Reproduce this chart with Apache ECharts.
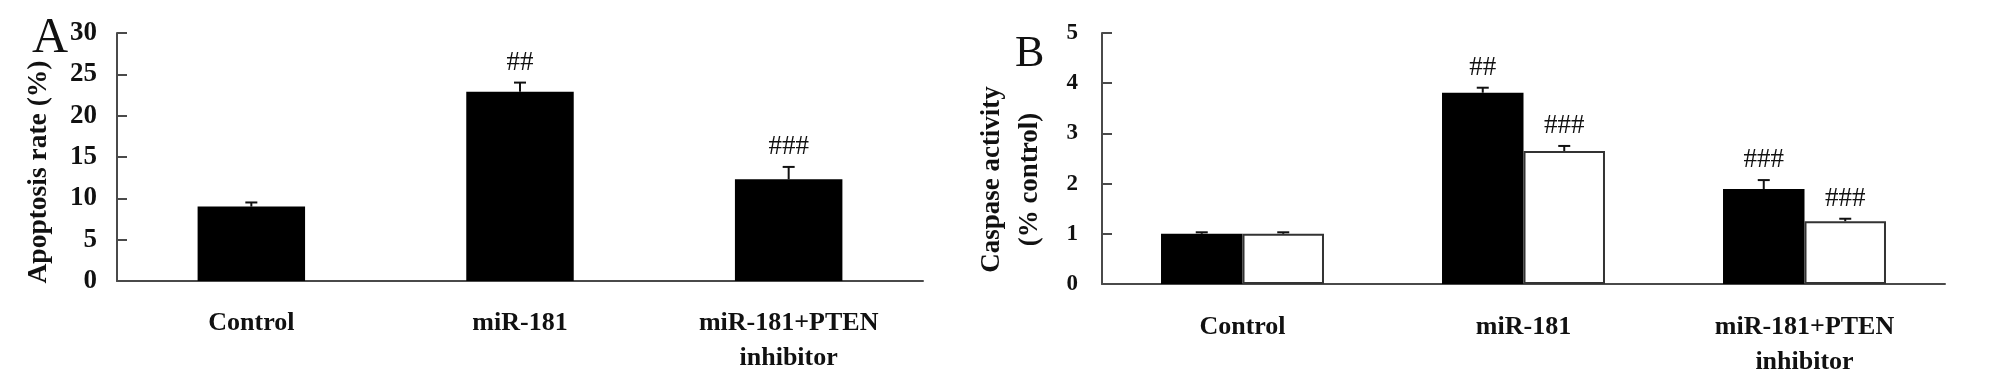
<!DOCTYPE html>
<html>
<head>
<meta charset="utf-8">
<script src="https://cdn.jsdelivr.net/npm/echarts@6/dist/echarts.min.js"></script>
<style>
html,body{margin:0;padding:0;background:#fff;}
#chart{width:2008px;height:384px;}
</style>
</head>
<body>
<div id="chart"></div>
<script>
// ---- data ----
const categories = ['Control', 'miR-181', 'miR-181+PTEN\ninhibitor'];
const apoptosisTicks = [0, 30, 5];           // min, max, interval
const caspaseTicks = [0, 5, 1];
const apoptosisRate = [9.0, 22.9, 12.3];
const apoptosisErr = [0.5, 1.1, 1.5];
const apoptosisMarks = ['', '##', '###'];
const caspaseBlack = [1.0, 3.81, 1.89];
const caspaseBlackErr = [0.03, 0.1, 0.18];
const caspaseBlackMarks = ['', '##', '###'];
const caspaseWhite = [1.0, 2.65, 1.25];
const caspaseWhiteErr = [0.03, 0.1, 0.05];
const caspaseWhiteMarks = ['', '###', '###'];

// ---- styling ----
const SERIF = '"Liberation Serif", "Times New Roman", serif';
const AXIS_COLOR = '#4a4a4a';

function errSeries(xIdx, yIdx, vals, errs, marks, shift, barFrac) {
  return {
    type: 'custom',
    xAxisIndex: xIdx, yAxisIndex: yIdx,
    z: 10,
    data: vals.map((v, i) => [i, v, errs[i]]),
    renderItem: function (params, api) {
      const idx = api.value(0), v = api.value(1), e = api.value(2);
      const mark = marks[idx];
      const base = api.coord([idx, v]);
      const top = api.coord([idx, v + e]);
      const band = api.size([1, 0])[0];
      const x = base[0] + shift * band * barFrac;
      const cap = 6;
      const children = [
        {type: 'line', shape: {x1: x, y1: base[1], x2: x, y2: top[1]}, style: {stroke: '#111', lineWidth: 2}},
        {type: 'line', shape: {x1: x - cap, y1: top[1], x2: x + cap, y2: top[1]}, style: {stroke: '#111', lineWidth: 2}}
      ];
      if (mark) {
        children.push({type: 'text', style: {text: mark, x: x, y: top[1] - 20, align: 'center', verticalAlign: 'middle',
          fontSize: 27, fontFamily: SERIF, fill: '#111'}});
      }
      return {type: 'group', children: children};
    }
  };
}

const xAxisCommon = {
  type: 'category',
  data: categories,
  axisLine: {lineStyle: {color: AXIS_COLOR, width: 2}},
  axisTick: {inside: true, length: 9, lineStyle: {color: AXIS_COLOR, width: 2}},
  splitLine: {show: false}
};
const yAxisCommon = {
  type: 'value',
  axisLine: {show: true, lineStyle: {color: AXIS_COLOR, width: 2}},
  axisTick: {show: true, inside: true, length: 10, lineStyle: {color: AXIS_COLOR, width: 2}},
  splitLine: {show: false},
  nameLocation: 'middle',
  nameRotate: 90
};

const option = {
  animation: false,
  backgroundColor: '#fff',
  grid: [
    {left: 117, top: 33, width: 806, height: 248},
    {left: 1102, top: 33, width: 843, height: 251}
  ],
  xAxis: [
    Object.assign({}, xAxisCommon, {gridIndex: 0,
      axisLabel: {margin: 25, fontFamily: SERIF, fontWeight: 'bold', fontSize: 26, lineHeight: 35, color: '#111', interval: 0}}),
    Object.assign({}, xAxisCommon, {gridIndex: 1,
      axisLabel: {margin: 26, fontFamily: SERIF, fontWeight: 'bold', fontSize: 26, lineHeight: 35, color: '#111', interval: 0}})
  ],
  yAxis: [
    Object.assign({}, yAxisCommon, {gridIndex: 0,
      min: apoptosisTicks[0], max: apoptosisTicks[1], interval: apoptosisTicks[2],
      name: 'Apoptosis rate (%)', nameGap: 64,
      nameTextStyle: {fontFamily: SERIF, fontWeight: 'bold', fontSize: 27.5, color: '#111', padding: [0, 30, 0, 0]},
      axisLabel: {margin: 20, fontFamily: SERIF, fontWeight: 'bold', fontSize: 27, color: '#111'}}),
    Object.assign({}, yAxisCommon, {gridIndex: 1,
      min: caspaseTicks[0], max: caspaseTicks[1], interval: caspaseTicks[2],
      name: 'Caspase activity\n(% control)', nameGap: 53,
      nameTextStyle: {fontFamily: SERIF, fontWeight: 'bold', fontSize: 27, lineHeight: 38, color: '#111', padding: [0, 42, 0, 0]},
      axisLabel: {margin: 24, fontFamily: SERIF, fontWeight: 'bold', fontSize: 23, color: '#111'}})
  ],
  graphic: [
    {type: 'text', left: 32, top: 14, style: {text: 'A', fontFamily: SERIF, fontSize: 50, fill: '#111'}},
    {type: 'text', left: 1015, top: 32, style: {text: 'B', fontFamily: SERIF, fontSize: 44, fill: '#111'}}
  ],
  series: [
    {type: 'bar', xAxisIndex: 0, yAxisIndex: 0, data: apoptosisRate, barWidth: '40%',
      itemStyle: {color: '#000'}},
    errSeries(0, 0, apoptosisRate, apoptosisErr, apoptosisMarks, 0, 0),
    {type: 'bar', xAxisIndex: 1, yAxisIndex: 1, data: caspaseBlack, barWidth: '29%', barGap: '0%',
      itemStyle: {color: '#000'}},
    {type: 'bar', xAxisIndex: 1, yAxisIndex: 1, data: caspaseWhite, barWidth: '29%', barGap: '0%',
      itemStyle: {color: '#fff', borderColor: '#333', borderWidth: 2}},
    errSeries(1, 1, caspaseBlack, caspaseBlackErr, caspaseBlackMarks, -0.5, 0.29),
    errSeries(1, 1, caspaseWhite, caspaseWhiteErr, caspaseWhiteMarks, 0.5, 0.29)
  ]
};

const chart = echarts.init(document.getElementById('chart'), null, {renderer: 'canvas'});
chart.setOption(option);
</script>
</body>
</html>
